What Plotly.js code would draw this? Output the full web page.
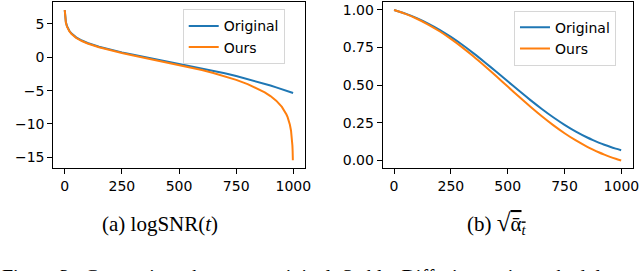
<!DOCTYPE html>
<html>
<head>
<meta charset="utf-8">
<script src="https://cdn.plot.ly/plotly-3.0.1.min.js"></script>
<style>html,body{margin:0;padding:0;background:#fff;}#chart{width:640px;height:271px;}</style>
</head>
<body>
<div id="chart"></div>
<script>
// Timesteps and values
const tOrigLog = [0,1,2,5,10,20,30,40,50,75,100,150,200,250,300,350,400,450,500,550,600,650,700,750,800,850,875,900,925,950,975,999];
const origLogSNR = [7.07,6.373,5.964,5.262,4.640,3.962,3.541,3.229,2.978,2.502,2.135,1.570,1.119,0.725,0.366,0.026,-0.304,-0.632,-0.963,-1.301,-1.653,-2.020,-2.409,-2.822,-3.263,-3.736,-3.985,-4.244,-4.512,-4.789,-5.078,-5.364];

const tOursLog = [0,1,2,5,10,20,30,40,50,75,100,150,200,250,300,350,400,450,500,550,600,650,700,750,800,850,875,900,925,950,960,970,975,980,985,990,993,995,996,997,998];
const oursLogSNR = [7.07,6.344,5.921,5.204,4.576,3.894,3.471,3.158,2.906,2.428,2.058,1.489,1.031,0.630,0.261,-0.093,-0.439,-0.789,-1.147,-1.523,-1.923,-2.358,-2.839,-3.384,-4.020,-4.795,-5.263,-5.819,-6.508,-7.441,-7.943,-8.580,-8.981,-9.471,-10.104,-11.010,-11.835,-12.654,-13.236,-14.051,-15.442];

const tSqrt = [0,50,100,150,200,250,300,350,400,450,500,550,600,650,700,750,800,850,875,900,925,950,975,999];
const origSqrtAlpha = [0.9996,0.9755,0.9456,0.9098,0.8682,0.8208,0.7684,0.7117,0.6515,0.5891,0.5257,0.4625,0.4010,0.3422,0.2873,0.2370,0.1920,0.1526,0.1351,0.1190,0.1042,0.0908,0.0787,0.0683];
const oursSqrtAlpha = [0.9996,0.9737,0.9417,0.9033,0.8585,0.8077,0.7515,0.6906,0.6260,0.5590,0.4910,0.4232,0.3571,0.2940,0.2350,0.1811,0.1328,0.0906,0.0718,0.0544,0.0386,0.0242,0.0112,0.0];

const xTicks = [0,250,500,750,1000];
const yTicksA = [-15,-10,-5,0,5];
const yTicksB = [0,0.25,0.5,0.75,1.0];
const yTickTextB = ['0.00','0.25','0.50','0.75','1.00'];
const seriesNames = ['Original','Ours'];
const captionA = '(a) logSNR(<i>t</i>)';
const captionB = '(b) <span style="font-size:25px">√</span><span style="text-decoration:overline">ᾱ<sub><i>t</i></sub></span>';
const figCaption = 'Figure 3:  Comparison  between  original  Stable  Diffusion  noise  schedule';

const BLUE = '#1f77b4', ORANGE = '#ff7f0e';
const tickFont = {family: 'DejaVu Sans', size: 14, color: '#000'};

const traces = [
  {x: tOrigLog, y: origLogSNR, name: seriesNames[0], mode: 'lines', line: {color: BLUE, width: 2}, xaxis: 'x', yaxis: 'y', legend: 'legend'},
  {x: tOursLog, y: oursLogSNR, name: seriesNames[1], mode: 'lines', line: {color: ORANGE, width: 2}, xaxis: 'x', yaxis: 'y', legend: 'legend'},
  {x: tSqrt, y: origSqrtAlpha, name: seriesNames[0], mode: 'lines', line: {color: BLUE, width: 2, shape: 'spline', smoothing: 0.8}, xaxis: 'x2', yaxis: 'y2', legend: 'legend2'},
  {x: tSqrt, y: oursSqrtAlpha, name: seriesNames[1], mode: 'lines', line: {color: ORANGE, width: 2, shape: 'spline', smoothing: 0.8}, xaxis: 'x2', yaxis: 'y2', legend: 'legend2'}
];

const axisCommon = {
  showline: true, mirror: true, linecolor: '#000', linewidth: 1,
  ticks: 'outside', ticklen: 5, tickwidth: 1, tickcolor: '#000',
  showgrid: false, zeroline: false, tickfont: tickFont, fixedrange: true
};

const legendCommon = {
  font: {family: 'DejaVu Sans', size: 14, color: '#000'},
  bgcolor: 'rgba(255,255,255,0.8)', bordercolor: '#d6d6d6', borderwidth: 1,
  xanchor: 'left', yanchor: 'top', tracegroupgap: 0, itemwidth: 30
};

const layout = {
  width: 640, height: 271,
  margin: {l: 0, r: 0, t: 0, b: 0},
  paper_bgcolor: '#fff', plot_bgcolor: '#fff',
  showlegend: true,
  xaxis: Object.assign({}, axisCommon, {domain: [0.0833, 0.4758], range: [-49.95, 1048.95], tickvals: xTicks, anchor: 'y'}),
  yaxis: Object.assign({}, axisCommon, {domain: [0.3801, 0.9908], range: [-16.59, 8.20], tickvals: yTicksA, anchor: 'x'}),
  xaxis2: Object.assign({}, axisCommon, {domain: [0.598, 0.9883], range: [-49.95, 1048.95], tickvals: xTicks, anchor: 'y2'}),
  yaxis2: Object.assign({}, axisCommon, {domain: [0.3801, 0.9908], range: [-0.05, 1.0496], tickvals: yTicksB, ticktext: yTickTextB, anchor: 'x2'}),
  legend: Object.assign({}, legendCommon, {x: 0.2855, y: 0.9657}),
  legend2: Object.assign({}, legendCommon, {x: 0.8031, y: 0.9605}),
  annotations: [
    {text: captionA, xref: 'paper', yref: 'paper', x: 0.25, y: 1 - 224/271, xanchor: 'center', yanchor: 'middle', showarrow: false, font: {family: 'Liberation Serif', size: 21, color: '#000'}},
    {text: captionB, xref: 'paper', yref: 'paper', x: 0.7773, y: 1 - 223/271, xanchor: 'center', yanchor: 'middle', showarrow: false, font: {family: 'Liberation Serif', size: 21, color: '#000'}},
    {text: figCaption, xref: 'paper', yref: 'paper', x: 0, y: 1 - 264/271, xanchor: 'left', yanchor: 'top', showarrow: false, font: {family: 'Liberation Serif', size: 20, color: '#000'}}
  ]
};

Plotly.newPlot('chart', traces, layout, {displayModeBar: false, staticPlot: true});
</script>
</body>
</html>
